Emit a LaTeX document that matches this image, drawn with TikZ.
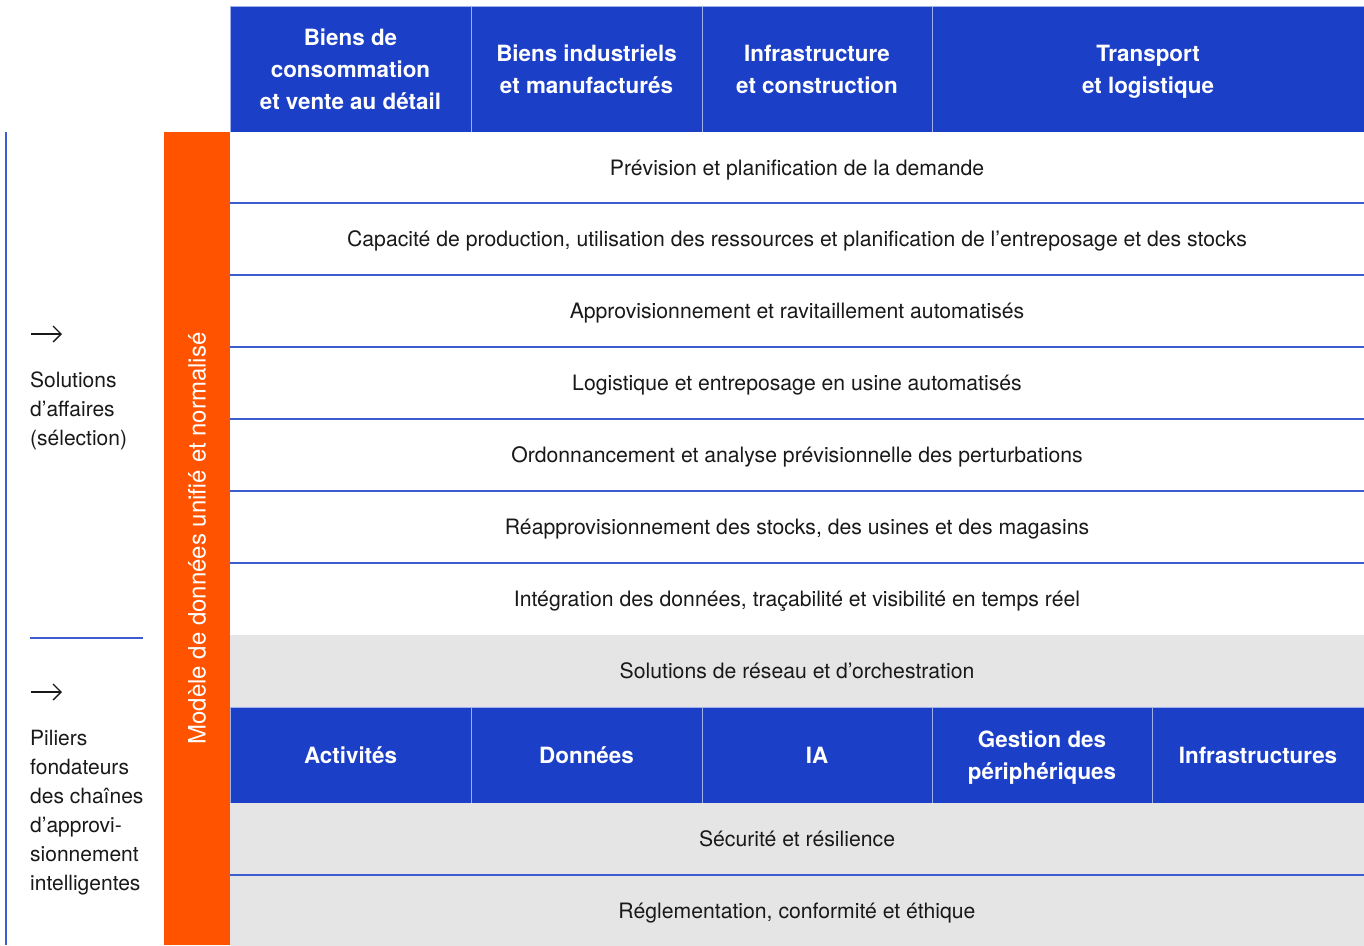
\documentclass[tikz,border=0pt]{standalone}
\usepackage{fontspec}
\setmainfont{TeX Gyre Heros}
\usetikzlibrary{arrows.meta}
\definecolor{hblue}{RGB}{28,63,200}
\definecolor{horange}{RGB}{255,83,0}
\definecolor{hgray}{RGB}{229,229,229}
\definecolor{hline}{RGB}{60,92,210}
\definecolor{hsep}{RGB}{160,176,232}
\definecolor{htext}{RGB}{25,25,25}
\tikzset{
 hdr/.style={fill=hblue, draw=hsep, line width=0.8, text=white, font=\fontsize{22.4}{32}\selectfont\bfseries, align=center, inner sep=0, outer sep=0, text depth=0pt},
 rowbox/.style={fill=white, minimum width=1134, minimum height=72, inner sep=0, outer sep=0, text=htext, font=\fontsize{21.2}{24}\selectfont, text height=15.4pt, text depth=0pt},
 growbox/.style={rowbox, fill=hgray},
 sepline/.style={draw=hline, line width=1.5},
 sidetext/.style={font=\fontsize{21}{29}\selectfont, text=htext, align=left, inner sep=0, anchor=base west},
 arrowglyph/.style={draw=htext, line width=1.3, -{Straight Barb[length=8pt, width=16pt, line width=1.3]}}
}
\begin{document}
\begin{tikzpicture}[x=1pt,y=-1pt]
\useasboundingbox (0,0) rectangle (1364,945);
\fill[white] (0,0) rectangle (1364,945);
% header
\node[hdr, minimum width=241, minimum height=126] (h1) at (350.5,69) {Biens de\\consommation\\et vente au détail};
\node[hdr, minimum width=231, minimum height=126] (h2) at (586.5,69) {Biens industriels\\et manufacturés};
\node[hdr, minimum width=230, minimum height=126] (h3) at (817,69) {Infrastructure\\et construction};
\node[hdr, minimum width=432, minimum height=126] (h4) at (1148,69) {Transport\\et logistique};
% rows
\node[rowbox, minimum height=71] (r1) at (797,167.5) {Prévision et planification de la demande};
\node[rowbox] (r2) at (797,239) {Capacité de production, utilisation des ressources et planification de l’entreposage et des stocks};
\node[rowbox] (r3) at (797,311) {Approvisionnement et ravitaillement automatisés};
\node[rowbox] (r4) at (797,383) {Logistique et entreposage en usine automatisés};
\node[rowbox] (r5) at (797,455) {Ordonnancement et analyse prévisionnelle des perturbations};
\node[rowbox] (r6) at (797,527) {Réapprovisionnement des stocks, des usines et des magasins};
\node[rowbox] (r7) at (797,599) {Intégration des données, traçabilité et visibilité en temps réel};
\node[growbox] (r8) at (797,671) {Solutions de réseau et d’orchestration};
% pillars
\node[hdr, minimum width=241, minimum height=96] (p1) at (350.5,755) {Activités};
\node[hdr, minimum width=231, minimum height=96] (p2) at (586.5,755) {Données};
\node[hdr, minimum width=230, minimum height=96] (p3) at (817,755) {IA};
\node[hdr, minimum width=220, minimum height=96] (p4) at (1042,755) {Gestion des\\périphériques};
\node[hdr, minimum width=212, minimum height=96] (p5) at (1258,755) {Infrastructures};
\node[growbox] (s1) at (797,839) {Sécurité et résilience};
\node[growbox] (s2) at (797,911) {Réglementation, conformité et éthique};
% separators
\foreach \a in {r1,r2,r3,r4,r5,r6,s1}{
  \draw[sepline] (\a.south west) -- (\a.south east);
}
% orange bar
\node[fill=horange, rotate=90, minimum width=813, minimum height=66, inner sep=0, outer sep=0, text=white, font=\fontsize{24}{24}\selectfont] (bar) at (197,538.5) {Modèle de données unifié et normalisé};
% left side
\coordinate (lt) at (6,132);
\coordinate (lb) at (6,945);
\draw[sepline] (lt) -- (lb);
\coordinate (ml) at (30,638);
\coordinate (mr) at (143,638);
\draw[sepline] (ml) -- (mr);
\coordinate (a1s) at (31,334);
\coordinate (a1e) at (62,334);
\draw[arrowglyph] (a1s) -- (a1e);
\coordinate (a2s) at (31,692);
\coordinate (a2e) at (62,692);
\draw[arrowglyph] (a2s) -- (a2e);
\node[sidetext] (t1) at (30,445) {Solutions\\d’affaires\\(sélection)};
\node[sidetext] (t2) at (30,890) {Piliers\\fondateurs\\des chaînes\\d’approvi-\\sionnement\\intelligentes};
\end{tikzpicture}
\end{document}
